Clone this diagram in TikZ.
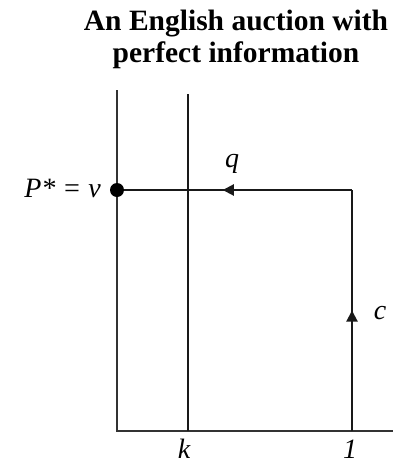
\documentclass[tikz,border=0pt]{standalone}
\usepackage{fontspec}
\setmainfont{Liberation Serif}
\usetikzlibrary{arrows.meta,decorations.markings}
\begin{document}
\begin{tikzpicture}[x=1pt,y=-1pt,
  axis/.style={line width=1.3pt,black!80},
  path/.style={line width=2pt,black!90},
  lab/.style={font=\fontsize{28}{30}\selectfont\itshape,inner sep=0pt},
  ttl/.style={font=\fontsize{29.5}{32}\selectfont\bfseries,align=center,inner sep=0pt},
  midarrow/.style={decoration={markings,mark=at position #1 with {\arrow{Triangle[length=11pt,width=11pt]}}},postaction={decorate}}
]
\useasboundingbox (0,0) rectangle (393,466);
\node[ttl] (title) at (236,39) {An English auction with\\perfect information};
\coordinate (otop) at (117,90);
\coordinate (o) at (117,431);
\coordinate (xend) at (393,431);
\coordinate (ktop) at (188,94);
\coordinate (kbot) at (188,431);
\coordinate (one) at (352,431);
\coordinate (corner) at (352,190);
\coordinate (pv) at (117,190);
\draw[axis] (otop) -- (o) -- (xend);
\draw[path] (ktop) -- (kbot);
\draw[path,midarrow=0.5] (one) -- (corner);
\draw[path,midarrow=0.55] (corner) -- (pv);
\fill (pv) circle (7);
\node[lab] (q) at (232,164) {q};
\node[lab] (c) at (380,313) {c};
\node[lab] (k) at (184,449) {k};
\node[lab] (n1) at (350,449) {1};
\node[lab,anchor=east] (p) at (101,188) {P* = v};
\end{tikzpicture}
\end{document}
